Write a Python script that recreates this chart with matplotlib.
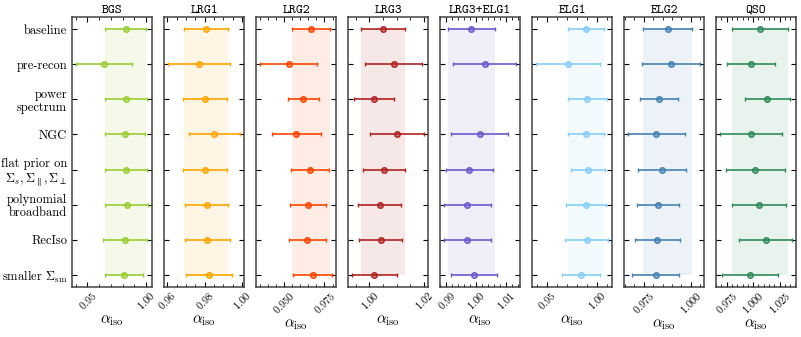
import numpy as np
import matplotlib
matplotlib.use("Agg")
import matplotlib.pyplot as plt
from matplotlib.ticker import MultipleLocator, AutoMinorLocator

plt.rcParams['font.family'] = 'serif'
plt.rcParams['font.serif'] = ['cmr10']
plt.rcParams['mathtext.fontset'] = 'cm'
plt.rcParams['axes.formatter.use_mathtext'] = True
plt.rcParams['axes.unicode_minus'] = False

variants = ['baseline', 'pre-recon', 'power\nspectrum', 'NGC',
            'flat prior on\n$\\Sigma_s, \\Sigma_{\\parallel}, \\Sigma_{\\perp}$',
            'polynomial\nbroadband', 'RecIso', 'smaller $\\Sigma_{\\rm sm}$']

tracers = ['BGS', 'LRG1', 'LRG2', 'LRG3', 'LRG3+ELG1', 'ELG1', 'ELG2', 'QSO']
colors = ['yellowgreen', 'orange', 'orangered', 'firebrick',
          'slateblue', 'lightskyblue', 'steelblue', 'seagreen']
major_step = [0.05, 0.02, 0.025, 0.02, 0.01, 0.05, 0.025, 0.025]

# alpha_iso mean and 1-sigma for each variant (nan = not available)
bgs_mean = [0.9825, 0.9639, 0.9825, 0.9819, 0.9825, 0.9833, 0.9819, 0.9813]
bgs_err = [0.0178, 0.0240, 0.0180, 0.0170, 0.0180, 0.0186, 0.0190, 0.0161]
lrg1_mean = [0.9807, 0.9770, 0.9802, 0.9853, 0.9802, 0.9811, 0.9814, 0.9823]
lrg1_err = [0.0116, 0.0168, 0.0119, 0.0139, 0.0118, 0.0116, 0.0120, 0.0123]
lrg2_mean = [0.9667, 0.9527, 0.9619, 0.9574, 0.9660, 0.9646, 0.9644, 0.9677]
lrg2_err = [0.0117, 0.0179, 0.0096, 0.0152, 0.0117, 0.0111, 0.0117, 0.0122]
lrg3_mean = [1.0050, 1.0090, 1.0018, 1.0102, 1.0053, 1.0037, 1.0041, 1.0017]
lrg3_err = [0.0080, 0.0105, 0.0074, 0.0101, 0.0077, 0.0081, 0.0081, 0.0083]
lrg3elg1_mean = [0.9984, 1.0029, np.nan, 1.0012, 0.9978, 0.9971, 0.9971, 0.9994]
lrg3elg1_err = [0.0080, 0.0107, np.nan, 0.0097, 0.0079, 0.0078, 0.0080, 0.0078]
elg1_mean = [0.9891, 0.9710, 0.9908, 0.9898, 0.9914, 0.9898, 0.9901, 0.9842]
elg1_err = [0.0182, 0.0320, 0.0193, 0.0180, 0.0173, 0.0200, 0.0217, 0.0189]
elg2_mean = [0.9878, 0.9896, 0.9833, 0.9818, 0.9847, 0.9825, 0.9823, 0.9813]
elg2_err = [0.0130, 0.0155, 0.0101, 0.0153, 0.0126, 0.0112, 0.0118, 0.0127]
qso_mean = [1.0065, 0.9981, 1.0134, 0.9979, 1.0021, 1.0059, 1.0121, 0.9972]
qso_err = [0.0262, 0.0230, 0.0215, 0.0295, 0.0277, 0.0256, 0.0251, 0.0262]

means = [bgs_mean, lrg1_mean, lrg2_mean, lrg3_mean, lrg3elg1_mean, elg1_mean, elg2_mean, qso_mean]
errs = [bgs_err, lrg1_err, lrg2_err, lrg3_err, lrg3elg1_err, elg1_err, elg2_err, qso_err]

fig, axes = plt.subplots(1, 8, figsize=(8.01, 3.37), dpi=100, sharey=True)
fig.subplots_adjust(left=0.0899, right=0.9938, top=0.9496, bottom=0.1484, wspace=0.15)

y = np.arange(len(variants))
for ax, name, col, m, e, step in zip(axes, tracers, colors, means, errs, major_step):
    m = np.array(m)
    e = np.array(e)
    ok = ~np.isnan(m)
    ax.fill_betweenx([0, len(variants) - 1], m[0] - e[0], m[0] + e[0],
                     color=col, alpha=0.1, lw=0)
    ax.errorbar(m[ok], y[ok], xerr=e[ok], fmt='o', color=col, ms=4,
                mfc=matplotlib.colors.to_rgba(col, 0.6), mec=col, mew=1,
                elinewidth=1.2, capsize=1.6, capthick=1.2)
    ax.set_title(name, family='cmtt10', fontsize=9.5, pad=3)
    ax.set_xlabel(r'$\alpha_{\rm iso}$', fontsize=11, labelpad=1)
    ax.xaxis.set_major_locator(MultipleLocator(step))
    ax.xaxis.set_minor_locator(AutoMinorLocator())
    ax.tick_params(axis='x', which='both', direction='in', top=True, bottom=True,
                   labelsize=7.5, pad=2)
    ax.tick_params(axis='x', which='major', length=3.5)
    ax.tick_params(axis='x', which='minor', length=2)
    ax.tick_params(axis='y', direction='in', left=True, right=True, length=3.5)
    for lab in ax.get_xticklabels():
        lab.set_rotation(45)
    for sp in ax.spines.values():
        sp.set_color('#444444')
        sp.set_linewidth(1.1)

axes[0].set_yticks(y)
axes[0].set_yticklabels(variants, fontsize=9, linespacing=1.1)
for lab in axes[0].get_yticklabels():
    lab.set_multialignment('right')
axes[0].set_ylim(len(variants) - 1 + 0.35, -0.35)

fig.savefig('out.png', dpi=100)
